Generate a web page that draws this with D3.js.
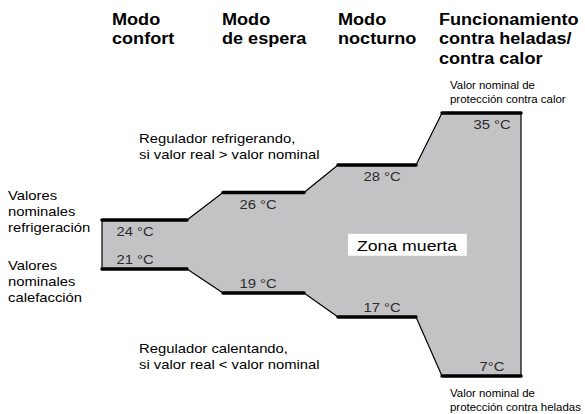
<!DOCTYPE html>
<html>
<head>
<meta charset="utf-8">
<script src="https://cdn.jsdelivr.net/npm/d3@7"></script>
<style>
  html, body { margin: 0; padding: 0; background: #fff; }
  svg { display: block; }
  text { font-family: "Liberation Sans", Arial, Helvetica, sans-serif; }
</style>
</head>
<body>
<svg id="chart" width="585" height="414"></svg>
<script>
// ---- data ----
const modes = ["confort", "espera", "nocturno", "heladas"];
const headerLines = [
  ["Modo", "confort"],
  ["Modo", "de espera"],
  ["Modo", "nocturno"],
  ["Funcionamiento", "contra heladas/", "contra calor"]
];
const coolingSetpoints = [24, 26, 28, 35];
const heatingSetpoints = [21, 19, 17, 7];
const coolingLabels = ["24 °C", "26 °C", "28 °C", "35 °C"];
const heatingLabels = ["21 °C", "19 °C", "17 °C", "7°C"];
const coolingNote = ["Regulador refrigerando,", "si valor real > valor nominal"];
const heatingNote = ["Regulador calentando,", "si valor real < valor nominal"];
const coolingSide = ["Valores", "nominales", "refrigeración"];
const heatingSide = ["Valores", "nominales", "calefacción"];
const heatProtNote = ["Valor nominal de", "protección contra calor"];
const frostProtNote = ["Valor nominal de", "protección contra heladas"];
const deadZone = "Zona muerta";

// ---- layout ----
const svg = d3.select("#chart");
const SX = 1.14; // horizontal stretch of the original lettering

// schematic (not to scale) temperature axis
const y = d3.scaleLinear()
  .domain([7, 17, 21, 24, 28, 35])
  .range([376, 317, 269, 220, 165, 113]);

// edges of the plateaus: start/end of each mode
const xEdge = d3.scaleLinear()
  .domain(d3.range(8))
  .range([102, 187, 223, 304, 338, 416, 442, 521]);
const xStart = i => xEdge(2 * i);
const xEnd = i => xEdge(2 * i + 1);
const labelX = d3.scaleLinear().domain([0, 1, 2, 3]).range([135, 258, 382, 492]);
const headerX = d3.scaleLinear().domain([0, 1, 2, 3]).range([112, 222, 338, 439]);

// ---- dead zone polygon ----
const pts = [];
modes.forEach((m, i) => {
  pts.push([xStart(i), y(coolingSetpoints[i])]);
  pts.push([xEnd(i), y(coolingSetpoints[i])]);
});
for (let i = modes.length - 1; i >= 0; i--) {
  pts.push([xEnd(i), y(heatingSetpoints[i])]);
  pts.push([xStart(i), y(heatingSetpoints[i])]);
}
svg.append("path")
  .attr("d", d3.line()(pts) + "Z")
  .attr("fill", "#c3c3c5")
  .attr("stroke", "#000")
  .attr("stroke-width", 1.2)
  .attr("stroke-linejoin", "round");

// thick setpoint plateaus
function plateaus(values) {
  svg.append("g").selectAll("line").data(values).join("line")
    .attr("x1", (d, i) => xStart(i))
    .attr("x2", (d, i) => xEnd(i))
    .attr("y1", d => y(d))
    .attr("y2", d => y(d))
    .attr("stroke", "#000")
    .attr("stroke-width", 3.5)
    .attr("stroke-linecap", "round");
}
plateaus(coolingSetpoints);
plateaus(heatingSetpoints);

// helper for stretched text
function txt(x, yy, s, opts = {}) {
  return svg.append("text")
    .attr("transform", `translate(${x},${yy}) scale(${opts.sx || SX},1)`)
    .attr("font-size", opts.size || 13)
    .attr("font-weight", opts.weight || "normal")
    .attr("fill", opts.fill || "#000")
    .attr("text-anchor", opts.anchor || "start")
    .text(s);
}
function block(x, y0, lines, dy, opts) {
  lines.forEach((s, i) => txt(x, y0 + i * dy, s, opts));
}

// value labels
coolingSetpoints.forEach((v, i) =>
  txt(labelX(i), y(v) + 16, coolingLabels[i], { size: 13, fill: "#2b2b2b", anchor: "middle" }));
heatingSetpoints.forEach((v, i) =>
  txt(labelX(i), y(v) - 5, heatingLabels[i], { size: 13, fill: "#2b2b2b", anchor: "middle" }));

// headers
headerLines.forEach((lines, i) =>
  block(headerX(i), 24.5, lines, 19.5, { size: 15.6, weight: "bold", sx: 1.16 }));

// notes
block(139, 143, coolingNote, 16, { size: 13 });
block(139, 353, heatingNote, 16, { size: 13 });
block(8, 200, coolingSide, 16, { size: 13 });
block(8, 270, heatingSide, 16, { size: 13 });
block(450, 89, heatProtNote, 14, { size: 10.4, sx: 1.1 });
block(450, 397, frostProtNote, 14, { size: 10.4, sx: 1.1 });

// dead zone label with white box
const dzX = (xStart(1) + xEnd(3)) / 2 + 35;
const dzY = (y(coolingSetpoints[1]) + y(heatingSetpoints[1])) / 2 + 8;
const dzG = svg.append("g");
const dzRect = dzG.append("rect").attr("fill", "#fff");
const dzT = dzG.append("text")
  .attr("transform", `translate(${dzX},${dzY}) scale(${SX},1)`)
  .attr("font-size", 15.5)
  .attr("text-anchor", "middle")
  .attr("fill", "#000")
  .text(deadZone);
const bb = dzT.node().getBBox();
dzRect
  .attr("x", dzX + bb.x * SX - 9)
  .attr("y", dzY - 17)
  .attr("width", bb.width * SX + 18)
  .attr("height", 22);
</script>
</body>
</html>
